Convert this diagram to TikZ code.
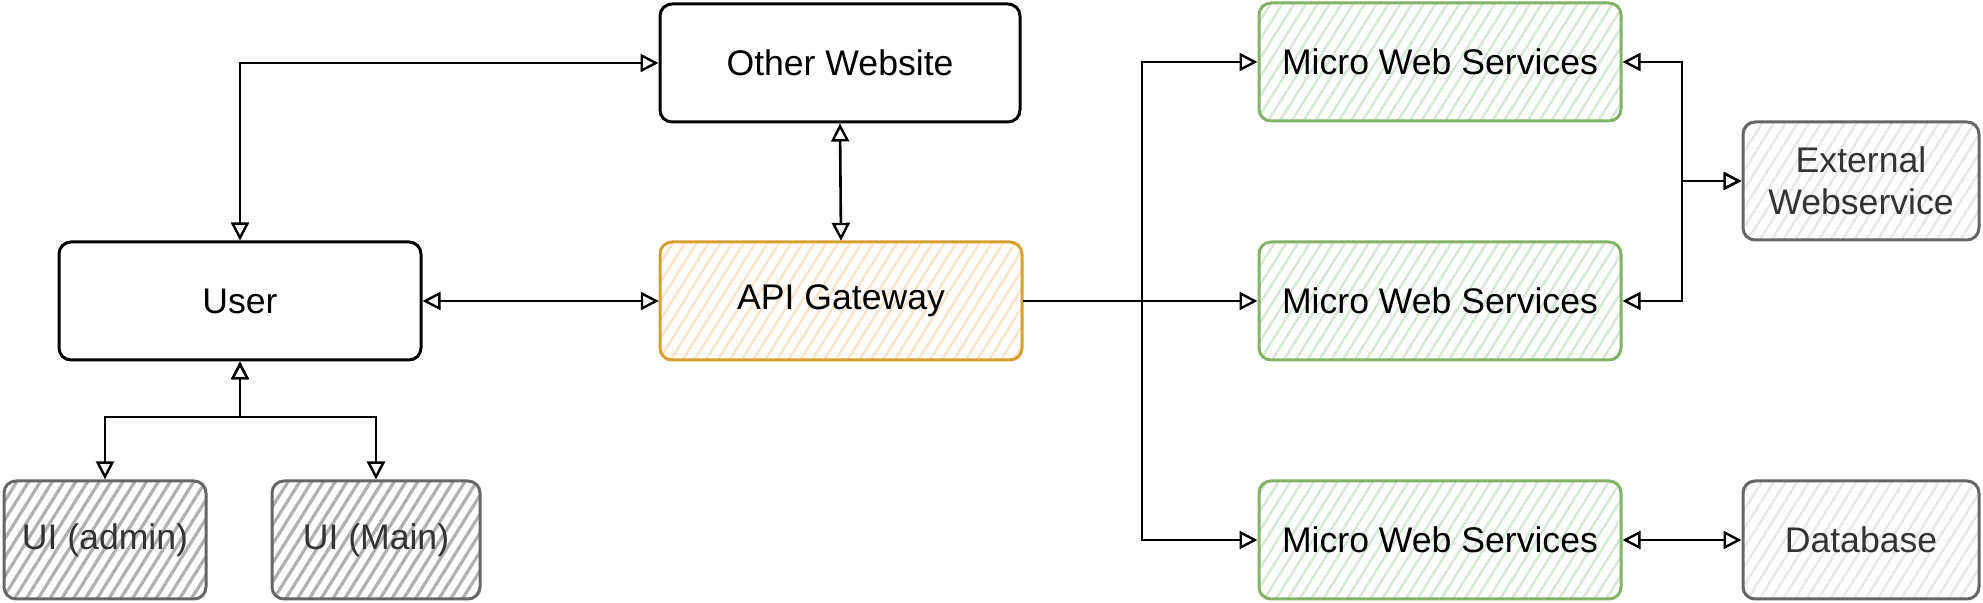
\documentclass[tikz,border=0pt]{standalone}
\usepackage{fontspec}
\setmainfont{Liberation Sans}
\usetikzlibrary{arrows.meta,patterns.meta}
\definecolor{cgraystroke}{HTML}{666666}
\definecolor{cgraytext}{HTML}{333333}
\definecolor{cuihatch}{HTML}{B0B0B0}
\definecolor{clighthatch}{HTML}{E8E8E8}
\definecolor{cgreenstroke}{HTML}{82B366}
\definecolor{cgreenhatch}{HTML}{D5E8D4}
\definecolor{corangestroke}{HTML}{D6A030}
\definecolor{corangehatch}{HTML}{FCE4C8}
\tikzset{
  box/.style={draw, rounded corners=6pt, line width=1.5pt, minimum height=59pt,
    inner sep=2pt, font=\fontsize{17.8}{21}\selectfont, align=center},
  plainbox/.style={box, fill=white, text=black},
  uibox/.style={box, draw=cgraystroke, text=cgraytext,
    pattern={Lines[angle=58,distance=5pt,line width=1.6pt]}, pattern color=cuihatch},
  extbox/.style={box, draw=cgraystroke, text=cgraytext,
    pattern={Lines[angle=58,distance=5pt,line width=1.2pt]}, pattern color=clighthatch},
  greenbox/.style={box, draw=cgreenstroke, text=black,
    pattern={Lines[angle=58,distance=5pt,line width=1.2pt]}, pattern color=cgreenhatch},
  orangebox/.style={box, draw=corangestroke, text=black,
    pattern={Lines[angle=58,distance=5pt,line width=1.2pt]}, pattern color=corangehatch},
  tip/.tip={Triangle[open,length=9pt,width=9pt,line width=1.2pt]},
  arr/.style={line width=1.3pt, -tip},
  arrb/.style={line width=1.3pt, tip-tip},
}
\begin{document}
\begin{tikzpicture}[x=0.5pt,y=-0.5pt]
\fill[white] (0,0) rectangle (1983,603);
\useasboundingbox (0,0) rectangle (1983,603);

\node[plainbox, minimum width=180pt] (other) at (840,63) {Other Website};
\node[plainbox, minimum width=181pt] (user) at (240,301) {User};
\node[orangebox, minimum width=181pt] (api) at (841,301) {API Gateway};
\node[uibox, minimum width=101pt] (uia) at (105,540) {UI (admin)};
\node[uibox, minimum width=104pt] (uim) at (376,540) {UI (Main)};
\node[greenbox, minimum width=181pt] (mws1) at (1440,62) {Micro Web Services};
\node[greenbox, minimum width=181pt] (mws2) at (1440,301) {Micro Web Services};
\node[greenbox, minimum width=181pt] (mws3) at (1440,540) {Micro Web Services};
\node[extbox, minimum width=118pt] (ext) at (1861,181) {External\\Webservice};
\node[extbox, minimum width=118pt] (db) at (1861,540) {Database};

\coordinate (usplit) at (240,417);
\coordinate (bus) at (1142,301);
\coordinate (ebus) at (1682,181);

\draw[arrb] (user.north) |- (other.west);
\draw[arrb] (other.south) -- (api.north);
\draw[arrb] (user.east) -- (api.west);
\draw[arrb] (user.south) -- (usplit) -| (uia.north);
\draw[arrb] (user.south) -- (usplit) -| (uim.north);
\draw[arr] (api.east) -- (bus) |- (mws1.west);
\draw[arr] (api.east) -- (mws2.west);
\draw[arr] (api.east) -- (bus) |- (mws3.west);
\draw[arrb] (mws1.east) -| (ebus) -- (ext.west);
\draw[arrb] (mws2.east) -| (ebus) -- (ext.west);
\draw[arrb] (mws3.east) -- (db.west);
\end{tikzpicture}
\end{document}
